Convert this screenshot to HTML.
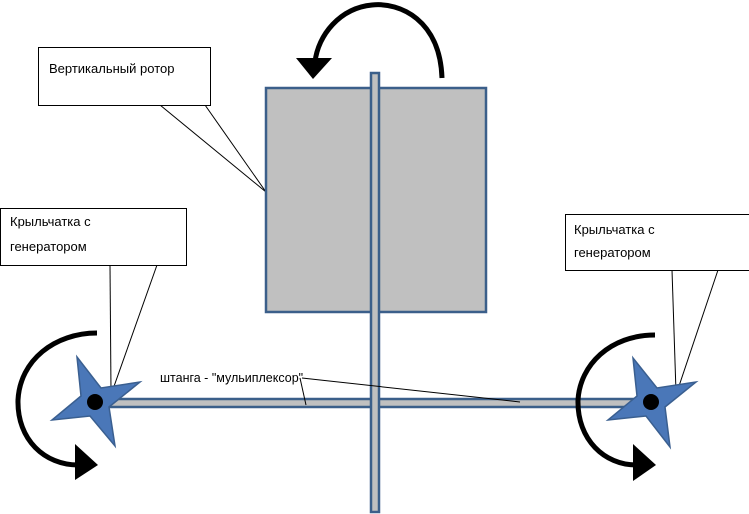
<!DOCTYPE html>
<html><head><meta charset="utf-8"><style>body{margin:0;background:#fff}svg{display:block}</style></head>
<body>
<svg width="749" height="514" viewBox="0 0 749 514" xmlns="http://www.w3.org/2000/svg" font-family="Liberation Sans, sans-serif" font-size="13">
<rect x="0" y="0" width="749" height="514" fill="#fff"/>
<g stroke="#000" stroke-width="1" fill="none">
<line x1="160" y1="105" x2="266" y2="192"/>
<line x1="205" y1="105" x2="266" y2="192"/>
<line x1="110" y1="265" x2="111" y2="392"/>
<line x1="157" y1="265" x2="112" y2="392"/>
<line x1="672" y1="270" x2="676" y2="392"/>
<line x1="718" y1="270" x2="677" y2="392"/>
</g>
<rect x="266" y="88" width="220" height="224" fill="#c0c0c0" stroke="#3b5f8a" stroke-width="2.5"/>
<rect x="100" y="399" width="545" height="8" fill="#c0c0c0" stroke="#3b5f8a" stroke-width="2.5"/>
<rect x="371" y="73" width="8" height="439" fill="#c0c0c0" stroke="#3b5f8a" stroke-width="2.5"/>
<g stroke="#000" stroke-width="1">
<line x1="300" y1="378" x2="306" y2="405"/>
<line x1="302" y1="378" x2="520" y2="402"/>
</g>
<text x="160" y="382" font-size="12.5">штанга - "мульиплексор"</text>
<g fill="#fff" stroke="#000" stroke-width="1">
<rect x="38.5" y="47.5" width="172" height="58"/>
<rect x="0.5" y="208.5" width="186" height="57"/>
<rect x="565.5" y="214.5" width="184" height="56"/>
</g>
<text x="49" y="73">Вертикальный ротор</text>
<text x="10" y="226">Крыльчатка с</text>
<text x="10" y="251">генератором</text>
<text x="574" y="234">Крыльчатка с</text>
<text x="574" y="257">генератором</text>
<path d="M442 78 C440 20 400 2 372 5 C340 8 318 35 315 62" fill="none" stroke="#000" stroke-width="5"/>
<polygon points="296,58 332,58 313,79" fill="#000"/>
<path d="M97 333 C55 333 20 360 18 400 C17 440 45 465 78 465" fill="none" stroke="#000" stroke-width="5"/>
<polygon points="75,444 75,480 98,465" fill="#000"/>
<path d="M655 335 C610 335 580 365 578 400 C577 440 605 465 636 465" fill="none" stroke="#000" stroke-width="5"/>
<polygon points="633,444 633,481 656,465" fill="#000"/>
<g fill="#4a77b8" stroke="#3a5f90" stroke-width="1.5">
<polygon points="77,357 101,388 140,382 109,407 115,446 90,416 52,420 81,396"/>
<polygon points="633,358 657,388 696,382 665,407 670,447 646,416 608,420 637,396"/>
</g>
<circle cx="95" cy="402" r="8" fill="#000"/>
<circle cx="651" cy="402" r="8" fill="#000"/>
</svg>
</body></html>
